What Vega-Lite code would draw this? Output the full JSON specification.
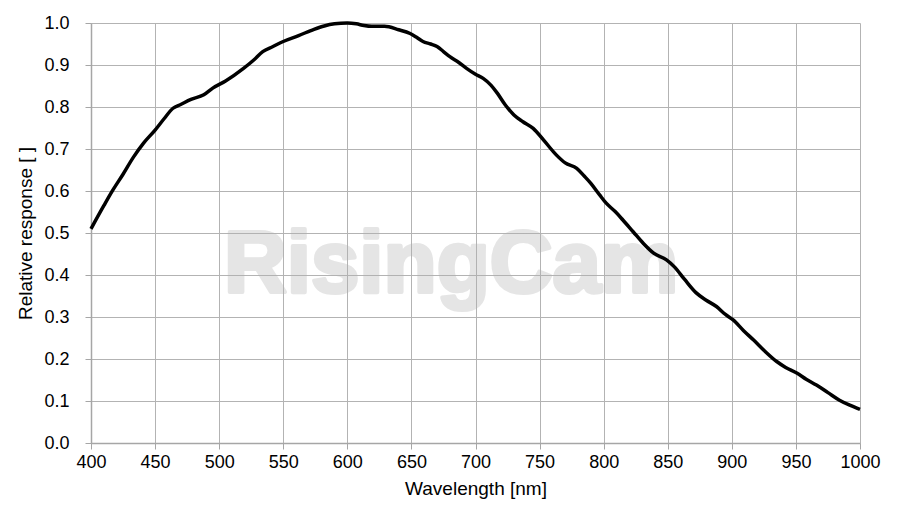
{
  "$schema": "https://vega.github.io/schema/vega-lite/v6.json",
  "autosize": "none",
  "padding": {"left": 91, "top": 23, "right": 42, "bottom": 76},
  "width": 769,
  "height": 420,
  "background": "#ffffff",
  "config": {
    "view": {"stroke": null},
    "font": "Liberation Sans",
    "axis": {
      "gridColor": "#b3b3b3",
      "gridWidth": 1,
      "domainColor": "#a6a6a6",
      "domainWidth": 1.5,
      "tickColor": "#a6a6a6",
      "tickSize": 6,
      "labelFont": "Liberation Sans",
      "labelFontSize": 18,
      "labelColor": "#000000",
      "labelFlush": false,
      "labelOverlap": false,
      "labelBound": false,
      "titleFont": "Liberation Sans",
      "titleFontSize": 19,
      "titleFontWeight": "normal",
      "titleColor": "#000000"
    }
  },
  "datasets": {
    "response": [
      {"wl": 400, "resp": 0.51},
      {"wl": 410, "resp": 0.565},
      {"wl": 417, "resp": 0.602},
      {"wl": 425, "resp": 0.64},
      {"wl": 433, "resp": 0.68},
      {"wl": 441, "resp": 0.714},
      {"wl": 450, "resp": 0.745},
      {"wl": 457, "resp": 0.772},
      {"wl": 464, "resp": 0.797},
      {"wl": 470, "resp": 0.806},
      {"wl": 478, "resp": 0.818},
      {"wl": 488, "resp": 0.829},
      {"wl": 495, "resp": 0.845},
      {"wl": 505, "resp": 0.862},
      {"wl": 519, "resp": 0.892},
      {"wl": 527, "resp": 0.912},
      {"wl": 534, "resp": 0.932},
      {"wl": 542, "resp": 0.944},
      {"wl": 550, "resp": 0.956},
      {"wl": 562, "resp": 0.970},
      {"wl": 574, "resp": 0.985},
      {"wl": 582, "resp": 0.993},
      {"wl": 590, "resp": 0.998},
      {"wl": 600, "resp": 1.0},
      {"wl": 607, "resp": 0.998},
      {"wl": 613, "resp": 0.994},
      {"wl": 619, "resp": 0.992},
      {"wl": 629, "resp": 0.992},
      {"wl": 640, "resp": 0.984},
      {"wl": 649, "resp": 0.975},
      {"wl": 654, "resp": 0.966},
      {"wl": 659, "resp": 0.956},
      {"wl": 665, "resp": 0.950},
      {"wl": 670, "resp": 0.944},
      {"wl": 675, "resp": 0.932},
      {"wl": 680, "resp": 0.920},
      {"wl": 687, "resp": 0.906},
      {"wl": 693, "resp": 0.892},
      {"wl": 700, "resp": 0.878},
      {"wl": 706, "resp": 0.868},
      {"wl": 712, "resp": 0.852},
      {"wl": 717, "resp": 0.833},
      {"wl": 723, "resp": 0.806},
      {"wl": 730, "resp": 0.781},
      {"wl": 737, "resp": 0.765},
      {"wl": 745, "resp": 0.749},
      {"wl": 754, "resp": 0.718},
      {"wl": 763, "resp": 0.686},
      {"wl": 770, "resp": 0.667},
      {"wl": 779, "resp": 0.654},
      {"wl": 785, "resp": 0.635},
      {"wl": 790, "resp": 0.618},
      {"wl": 797, "resp": 0.590},
      {"wl": 802, "resp": 0.571},
      {"wl": 809, "resp": 0.551},
      {"wl": 815, "resp": 0.531},
      {"wl": 823, "resp": 0.503},
      {"wl": 831, "resp": 0.475},
      {"wl": 839, "resp": 0.452},
      {"wl": 849, "resp": 0.436},
      {"wl": 855, "resp": 0.420},
      {"wl": 863, "resp": 0.390},
      {"wl": 872, "resp": 0.358},
      {"wl": 880, "resp": 0.340},
      {"wl": 888, "resp": 0.325},
      {"wl": 895, "resp": 0.306},
      {"wl": 901, "resp": 0.293},
      {"wl": 909, "resp": 0.268},
      {"wl": 917, "resp": 0.245},
      {"wl": 926, "resp": 0.218},
      {"wl": 935, "resp": 0.194},
      {"wl": 942, "resp": 0.180},
      {"wl": 951, "resp": 0.166},
      {"wl": 958, "resp": 0.152},
      {"wl": 966, "resp": 0.138},
      {"wl": 975, "resp": 0.120},
      {"wl": 984, "resp": 0.102},
      {"wl": 992, "resp": 0.090},
      {"wl": 1000, "resp": 0.080}
    ],
    "watermark": [
      {"wl": 681, "resp": 0.36, "label": "RisingCam"}
    ]
  },
  "encoding": {
    "x": {
      "field": "wl",
      "type": "quantitative",
      "scale": {"domain": [400, 1000], "nice": false, "zero": false},
      "axis": {
        "values": [400, 450, 500, 550, 600, 650, 700, 750, 800, 850, 900, 950, 1000],
        "format": "d",
        "labelPadding": 4,
        "titlePadding": 8
      },
      "title": "Wavelength [nm]"
    },
    "y": {
      "field": "resp",
      "type": "quantitative",
      "scale": {"domain": [0, 1], "nice": false},
      "axis": {
        "values": [0, 0.1, 0.2, 0.3, 0.4, 0.5, 0.6, 0.7, 0.8, 0.9, 1.0],
        "format": ".1f",
        "labelPadding": 16,
        "titlePadding": 8
      },
      "title": "Relative response [ ]"
    }
  },
  "layer": [
    {
      "data": {"name": "watermark"},
      "mark": {
        "type": "text",
        "font": "Liberation Sans",
        "fontWeight": "bold",
        "fontSize": 87,
        "fill": "#b0b0b0",
        "stroke": "#b0b0b0",
        "strokeWidth": 4,
        "strokeJoin": "round",
        "opacity": 0.32,
        "align": "center",
        "baseline": "alphabetic"
      },
      "encoding": {
        "text": {"field": "label", "type": "nominal"}
      }
    },
    {
      "data": {"name": "response"},
      "mark": {
        "type": "line",
        "color": "#000000",
        "strokeWidth": 3.5,
        "interpolate": "monotone"
      },
      "encoding": {}
    }
  ]
}
